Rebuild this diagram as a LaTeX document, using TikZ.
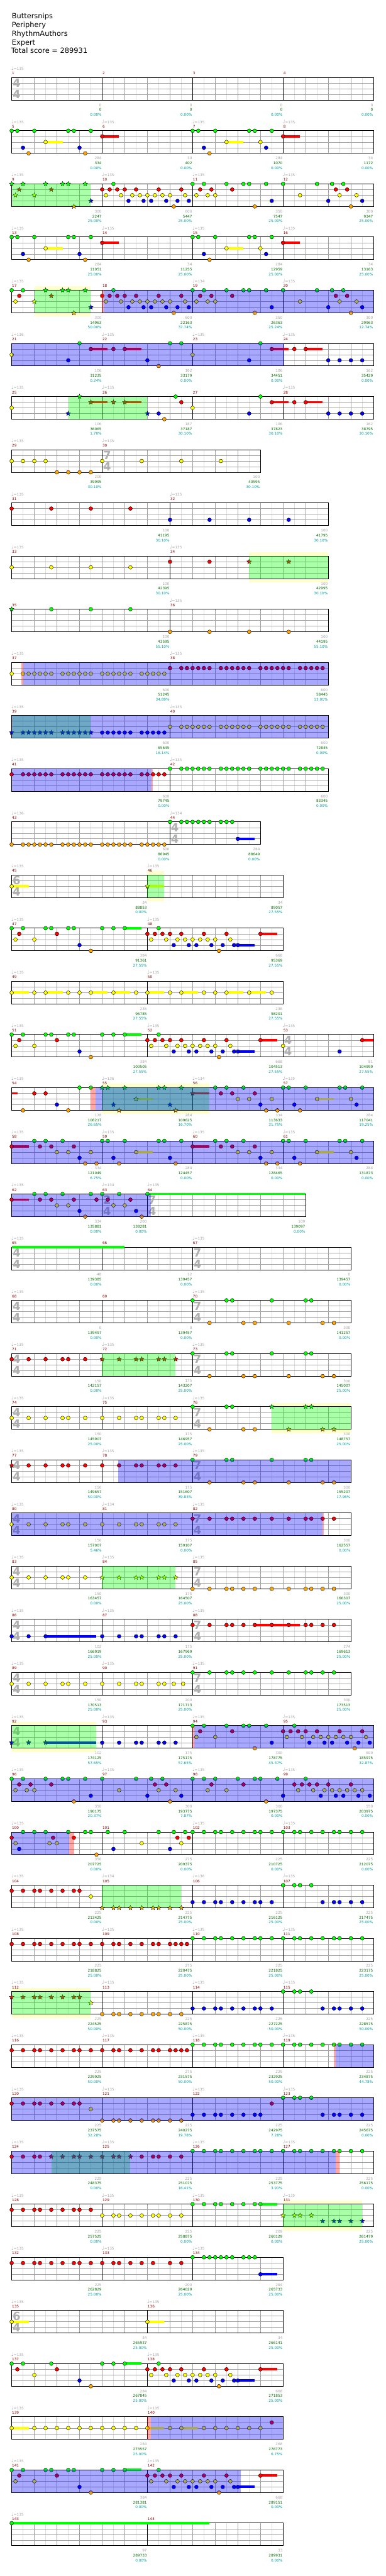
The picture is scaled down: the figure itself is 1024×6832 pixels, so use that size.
\documentclass[tikz,border=0pt]{standalone}
\usepackage{fontspec}
\setmainfont{DejaVu Sans}
\usetikzlibrary{shapes.geometric}
\definecolor{cG}{RGB}{0,255,0}
\definecolor{cR}{RGB}{255,0,0}
\definecolor{cY}{RGB}{255,255,0}
\definecolor{cB}{RGB}{0,0,255}
\definecolor{cO}{RGB}{255,165,0}
\definecolor{lightg}{RGB}{222,222,222}
\definecolor{midg}{RGB}{160,160,160}
\definecolor{tgray}{RGB}{165,165,165}
\definecolor{mred}{RGB}{145,0,0}
\definecolor{sgreen}{RGB}{0,110,0}
\definecolor{scyan}{RGB}{0,160,160}
\definecolor{tsgray}{RGB}{175,175,175}
\definecolor{ylw}{RGB}{255,255,204}
\newcommand\smallf{\fontsize{4.8pt}{5.5pt}\selectfont}
\newcommand\tsf{\fontsize{15pt}{15pt}\selectfont\bfseries}
\tikzset{
 nt/.style={draw=black, line width=0.35pt},
 stn/.style={star, star points=5, star point ratio=2.3, minimum size=6.5pt, inner sep=0pt, draw=black, line width=0.3pt},
 mnum/.style={anchor=west, inner sep=0pt, text=mred, font=\smallf},
 tmp/.style={anchor=west, inner sep=0pt, text=tgray, font=\smallf},
 sc1/.style={anchor=east, inner sep=0pt, text=tgray, font=\smallf},
 sc2/.style={anchor=east, inner sep=0pt, text=sgreen, font=\smallf},
 sc3/.style={anchor=east, inner sep=0pt, text=scyan, font=\smallf},
 tsn/.style={text=tsgray, font=\tsf, inner sep=0pt},
 hdr/.style={anchor=base west, inner sep=0pt, font=\fontsize{9.5pt}{11pt}\selectfont},
 rowno/.style={shift={(31,{205.7+141*#1})}}
}
% staff: #1 beats, #2 interior measure lines
\newcommand{\staff}[2]{%
 \fill[white] (0,0) rectangle (#1*60,60);
 \foreach \ii in {1,...,#1} {\draw[lightg,line width=0.5pt] (\ii*60-30,0) -- (\ii*60-30,60);}
 \pgfmathtruncatemacro\nbm{#1-1}
 \foreach \ii in {1,...,\nbm} {\draw[midg,line width=0.5pt] (\ii*60,0) -- (\ii*60,60);}
 \foreach \yy in {15,30,45} {\draw[midg,line width=0.5pt] (0,\yy) -- (#1*60,\yy);}
 \foreach \mm in {#2} {\draw[black,line width=0.5pt] (\mm*60,0) -- (\mm*60,60);}
 \draw[black,line width=0.8pt] (0,0) rectangle (#1*60,60);}
\newcommand{\nts}[3]{\edef\mylistx{#3}\foreach \xx in \mylistx {\filldraw[nt, fill=#1] (\xx*60,#2*15) circle[radius=2.5pt];}}
\newcommand{\sts}[3]{\edef\mylistx{#3}\foreach \xx in \mylistx {\node[stn, fill=#1] at (\xx*60,#2*15) {};}}
\newcommand{\sus}[4]{\fill[#1] (#3*60,#2*15-3.2) rectangle (#4*60,#2*15+3.2);}
\newcommand{\spz}[2]{\fill[cG, fill opacity=0.34] (#1*60,0) rectangle (#2*60,60);}
\newcommand{\odz}[2]{\fill[cB, fill opacity=0.34] (#1*60,0) rectangle (#2*60,60);}
\newcommand{\pkz}[2]{\fill[cR, fill opacity=0.34] (#1*60,0) rectangle (#2*60,60);}
\newcommand{\ybz}[2]{\fill[ylw] (#1*60,-10) rectangle (#2*60,70);}
\newcommand{\sat}[2]{\begin{scope}[shift={(#1*60,0)}]#2\end{scope}}
\newcommand{\mn}[2]{\node[mnum] at (#1*60+0.5,-11) {#2};}
\newcommand{\mt}[3]{\node[mnum] at (#1*60+0.5,-11) {#2};\node[tmp] at (#1*60-1,-24) {{\fontsize{6.5pt}{6.5pt}\selectfont ♩}=#3};}
\newcommand{\scores}[4]{\node[sc1] at (#1*60-1,73) {#2};\node[sc2] at (#1*60-1,86) {#3};\node[sc3] at (#1*60-1,99) {#4\%};}
\newcommand{\tsig}[3]{\node[tsn] at (#1*60+13,15) {#2};\node[tsn] at (#1*60+13,45) {#3};}
% lists
\def\lstA{0,0.75,1.5,2.25,2.5,3.25}
\def\lstB{4,4.75,5.5,5.75,6.5,6.75,7.25}
\def\lstS{0,0.75,1.5,1.75,2.25,2.75,3.5,4.25,5,5.25,5.75,6.25}
\def\lstP{0,0.5,1,1.25,1.75,2.25,2.75,3,3.5}
\def\lstPm{0,0.5,1,1.25,1.75,2.25,2.75,3}
\def\lstQ{0,0.5,0.75,1.25,1.75,2.25,2.5,3,3.5}
\def\lstSv{0,0.5,0.75,1,1.25,1.5,1.75,2.25,2.5,2.75,3,3.25,3.5,4,4.25,4.5,4.75,5,5.25,5.75,6,6.25,6.5,6.75}
% patterns
\newcommand{\pA}[1][\nts]{\sus{cY}{2}{1.5}{2.25}#1{cG}{0}{0,0.25,1,2.5,2.75,3.5}#1{cY}{2}{1.5}#1{cB}{3}{0.5,3}#1{cO}{4}{0.75,3.25}}
\newcommand{\pAp}[1][\nts]{\sus{cY}{2}{1.5}{2.25}#1{cG}{0}{0,0.25,1,2.5,2.75,3.5}#1{cY}{2}{1.5,3}#1{cB}{3}{0.5,3.25}#1{cO}{4}{0.75}}
\newcommand{\rsus}{\sus{cR}{1}{0}{0.75}\nts{cR}{1}{0}}
\newcommand{\pH}{\nts{cG}{0}{1,1.5,2.25}\nts{cR}{1}{1.25,1.75,2.75}\nts{cY}{2}{2,2.5,3.5}\nts{cB}{3}{3}\nts{cO}{4}{3.25,3.75}}
\newcommand{\pC}[1][\nts]{#1{cG}{0}{0,0.5,1.5,2.25,2.5,3.25}#1{cR}{1}{0.333,1.75}#1{cY}{2}{0.167,1}#1{cB}{3}{3.5}#1{cO}{4}{2.75}}
\newcommand{\pD}{\nts{cG}{0}{0.5}\nts{cR}{1}{0,0.333,0.667,1,1.5,2.5,3.5}\nts{cY}{2}{0.167,0.833,1.333,1.667,2,2.333,2.667,3,3.667}\nts{cB}{3}{1.167,1.833,2.167,2.833,3.333,3.833}\nts{cO}{4}{3.167}}
\newcommand{\pDx}{\nts{cG}{0}{0.5}\nts{cR}{1}{0,0.333,0.667,1,1.5,2.5}\nts{cY}{2}{0.167,0.833,1.333,1.667,2,2.333,2.667,3}\nts{cB}{3}{1.167,1.833,2.167,2.833,3.333}}
\newcommand{\pE}{\nts{cG}{0}{0,0.5,1.5,2.25,2.5,3.25,4,5.5,6.167,6.667}\nts{cR}{1}{0.333,0.833,1.75,6.333,6.833}\nts{cY}{2}{0.167,0.667,1,4.75,6.5,7.25}\nts{cB}{3}{3.5,6,7.5}\nts{cO}{4}{2.75,7}}
\newcommand{\pF}{\sus{cG}{0}{5}{5.75}\nts{cG}{0}{0,0.5,1.5,1.75,2.5,2.75,4,4.5,5}\nts{cR}{1}{0.333,2}\nts{cY}{2}{0.167,1}\nts{cB}{3}{3}\nts{cO}{4}{3.5}}
\newcommand{\pG}{\sus{cR}{1}{5}{5.75}\sus{cB}{3}{4}{4.75}\pD\nts{cR}{1}{5}\nts{cB}{3}{4}}
\newcommand{\pS}{\nts{cG}{0}{0,1.5,1.75,3.5,5,5.25}\nts{cO}{4}{0.75,2.25,2.75,4.25,5.75,6.25}}
\newcommand{\pK}{\nts{cG}{0}{0,0.5,0.75,1.25}\nts{cB}{3}{1.75,2.25,2.5,3,3.5}}
\begin{document}
\begin{tikzpicture}[x=0.5pt,y=-0.5pt]
\fill[white] (0,0) rectangle (1024,6832);
\useasboundingbox (0,0) rectangle (1024,6832);
\node[hdr] (song) at (31,49.3) {Buttersnips};
\node[hdr] (artist) at (31,72.3) {Periphery};
\node[hdr] (charter) at (31,95.5) {RhythmAuthors};
\node[hdr] (diff) at (31,118.5) {Expert};
\node[hdr] (total) at (29.5,141.7) {Total score = 289931};
% ---- row 0
\begin{scope}[rowno=0]
\staff{16}{4,8,12}\tsig{0}{4}{4}
\mt{0}{1}{135}\mn{4}{2}\mn{8}{3}\mn{12}{4}
\scores{4}{0}{0}{0.00}\scores{8}{0}{0}{0.00}\scores{12}{0}{0}{0.00}\scores{16}{0}{0}{0.00}
\end{scope}
% ---- row 1
\begin{scope}[rowno=1]
\staff{16}{4,8,12}
\pA\sat{4}{\rsus}\sat{8}{\pAp}\sat{12}{\rsus}
\mt{0}{5}{135}\mt{4}{6}{135}\mt{8}{7}{135}\mt{12}{8}{135}
\scores{4}{284}{334}{0.00}\scores{8}{34}{402}{0.00}\scores{12}{284}{1070}{0.00}\scores{16}{34}{1172}{0.00}
\end{scope}
% ---- row 2
\begin{scope}[rowno=2]
\staff{16}{4,8,12}
\pC[\sts]\sat{4}{\pD}\sat{8}{\pE}
\spz{0}{3.5}
\mt{0}{9}{135}\mt{4}{10}{135}\mt{8}{11}{135}\mt{12}{12}{135}
\scores{4}{300}{2247}{25.00}\scores{8}{600}{5447}{25.00}\scores{12}{350}{7547}{25.00}\scores{16}{300}{9347}{25.00}
\end{scope}
% ---- row 3
\begin{scope}[rowno=3]
\staff{16}{4,8,12}
\pA\sat{4}{\rsus}\sat{8}{\pAp}\sat{12}{\rsus}
\mt{0}{13}{135}\mt{4}{14}{135}\mt{8}{15}{135}\mt{12}{16}{135}
\scores{4}{284}{11051}{25.00}\scores{8}{34}{11255}{25.00}\scores{12}{284}{12959}{25.00}\scores{16}{34}{13163}{25.00}
\end{scope}
% ---- row 4
\begin{scope}[rowno=4]
\ybz{1}{3.5}\staff{16}{4,8,12}
\nts{cG}{0}{0,0.5}\nts{cR}{1}{0.333}\nts{cY}{2}{0.167}
\sts{cY}{2}{1}\sts{cG}{0}{1.5,2.25,2.5,3.25}\sts{cR}{1}{1.75}\sts{cB}{3}{3.5}\sts{cO}{4}{2.75}
\sat{4}{\pD}\sat{8}{\pE}
\spz{1}{3.5}\pkz{4}{4.07}\odz{4.07}{16}
\mt{0}{17}{135}\mn{4}{18}\mt{8}{19}{134}\mt{12}{20}{135}
\scores{4}{300}{14963}{50.00}\scores{8}{600}{22163}{37.74}\scores{12}{350}{26363}{25.24}\scores{16}{300}{29963}{12.74}
\end{scope}
% ---- row 5
\begin{scope}[rowno=5]
\staff{16}{4,8,12}
\sus{cR}{1}{3.5}{4.25}\sus{cR}{1}{5}{5.75}\sus{cR}{1}{11.5}{12.25}\sus{cR}{1}{13}{13.75}
\nts{cY}{2}{0,8}\nts{cG}{0}{3,7,7.5,11}\nts{cR}{1}{3.5,4.5,5,11.5,12.5,13}\nts{cB}{3}{2.5,6,10.5,14,14.5,15,15.5}\nts{cO}{4}{6.5}
\odz{0}{12.05}
\mt{0}{21}{136}\mt{4}{22}{135}\mt{8}{23}{135}\mt{12}{24}{135}
\scores{4}{106}{31235}{0.24}\scores{8}{162}{33179}{0.00}\scores{12}{106}{34451}{0.00}\scores{16}{162}{35429}{0.00}
\end{scope}
% ---- row 6
\begin{scope}[rowno=6]
\staff{16}{4,8,12}
\sus{cR}{1}{3.5}{4.25}\sus{cR}{1}{5}{5.75}\sus{cR}{1}{11.5}{12.25}\sus{cR}{1}{13}{13.75}
\nts{cY}{2}{0,8}\sts{cB}{3}{2.5,6}\sts{cG}{0}{3}\sts{cR}{1}{3.5,4.5,5}
\nts{cB}{3}{6.5,10.5,14,14.5,15,15.5}\nts{cO}{4}{6.75}\nts{cG}{0}{7.25,11}\nts{cR}{1}{7.5,11.5,12.5,13}
\spz{2.5}{6}
\mt{0}{25}{135}\mt{4}{26}{135}\mn{8}{27}\mt{12}{28}{135}
\scores{4}{106}{36065}{1.70}\scores{8}{187}{37187}{30.10}\scores{12}{106}{37823}{30.10}\scores{16}{162}{38795}{30.10}
\end{scope}
% ---- row 7
\begin{scope}[rowno=7]
\staff{11}{4}\tsig{4}{7}{4}
\nts{cY}{2}{0,0.5,1,1.5,4,5.75,7.5,9.25}\nts{cO}{4}{2,2.5,3,3.5}
\mt{0}{29}{135}\mt{4}{30}{135}
\scores{4}{200}{39995}{30.10}\scores{11}{100}{40595}{30.10}
\end{scope}
% ---- row 8
\begin{scope}[rowno=8]
\staff{14}{7}
\nts{cR}{1}{0,1.75,3.5,5.25}\nts{cB}{3}{7,8.75,10.5,12.25}
\mt{0}{31}{135}\mt{7}{32}{135}
\scores{7}{100}{41195}{30.10}\scores{14}{100}{41795}{30.10}
\end{scope}
% ---- row 9
\begin{scope}[rowno=9]
\ybz{10.5}{14}\staff{14}{7}
\nts{cY}{2}{0,1.75,3.5,5.25}\nts{cR}{1}{7,8.75}\sts{cR}{1}{10.5,12.25}
\spz{10.5}{14}
\mt{0}{33}{135}\mt{7}{34}{135}
\scores{7}{100}{42395}{30.10}\scores{14}{100}{42995}{30.10}
\end{scope}
% ---- row 10
\begin{scope}[rowno=10]
\staff{14}{7}
\sts{cG}{0}{0}\nts{cG}{0}{1.75,3.5,5.25}\nts{cO}{4}{7,8.75,10.5,12.25}
\mn{0}{35}\mt{7}{36}{135}
\scores{7}{100}{43595}{55.10}\scores{14}{100}{44195}{55.10}
\end{scope}
% ---- row 11
\begin{scope}[rowno=11]
\staff{14}{7}
\nts{cY}{2}{\lstSv}\sat{7}{\nts{cR}{1}{\lstSv}}
\pkz{0.44}{0.5}\odz{0.5}{14}
\mt{0}{37}{135}\mt{7}{38}{135}
\scores{7}{600}{51245}{34.89}\scores{14}{600}{58445}{13.01}
\end{scope}
% ---- row 12
\begin{scope}[rowno=12]
\staff{14}{7}
\sts{cB}{3}{0,0.5,0.75,1,1.25,1.5,1.75,2.25,2.5,2.75,3,3.25,3.5}
\nts{cB}{3}{4,4.25,4.5,4.75,5,5.25,5.75,6,6.25,6.5,6.75}
\sat{7}{\nts{cY}{2}{\lstSv}}
\spz{0}{3.5}\odz{0}{14}
\mt{0}{39}{135}\mt{7}{40}{135}
\scores{7}{600}{65645}{16.14}\scores{14}{600}{72845}{0.00}
\end{scope}
% ---- row 13
\begin{scope}[rowno=13]
\staff{14}{7}
\nts{cR}{1}{\lstSv}\sat{7}{\nts{cG}{0}{\lstSv}}
\odz{0}{6.17}\pkz{6.17}{6.25}
\mt{0}{41}{135}\mt{7}{42}{135}
\scores{7}{600}{79745}{0.00}\scores{14}{600}{83345}{0.00}
\end{scope}
% ---- row 14
\begin{scope}[rowno=14]
\staff{11}{7}\tsig{7}{4}{4}
\nts{cO}{4}{\lstSv}\sus{cB}{3}{10}{10.75}
\nts{cG}{0}{7,7.5,7.75,8,8.25,8.5,8.75,9.25,9.5,9.75}\nts{cB}{3}{10}
\mt{0}{43}{136}\mt{7}{44}{134}
\scores{7}{600}{86945}{0.00}\scores{11}{284}{88649}{0.00}
\end{scope}
% ---- row 15
\begin{scope}[rowno=15]
\ybz{6}{6.75}\staff{12}{6}\tsig{0}{6}{4}
\sus{cY}{2}{0}{0.75}\sus{cY}{2}{6}{6.75}\nts{cY}{2}{0}\sts{cY}{2}{6}
\spz{6}{6.75}
\mt{0}{45}{135}\mt{6}{46}{135}
\scores{6}{34}{88853}{0.00}\scores{12}{34}{89057}{27.55}
\end{scope}
% ---- row 16
\begin{scope}[rowno=16]
\staff{12}{6}
\pF\sat{6}{\pG}
\mt{0}{47}{135}\mt{6}{48}{135}
\scores{6}{384}{91361}{27.55}\scores{12}{668}{95369}{27.55}
\end{scope}
% ---- row 17
\begin{scope}[rowno=17]
\staff{12}{6}
\sus{cY}{2}{0}{0.75}\sus{cY}{2}{1.5}{2.25}\sus{cY}{2}{3.5}{4.25}\sus{cY}{2}{4.5}{5.25}
\sus{cY}{2}{6}{6.75}\sus{cY}{2}{7.5}{8.25}\sus{cY}{2}{9.5}{10.25}\sus{cY}{2}{10.5}{11.25}
\nts{cY}{2}{0,1,1.5,2.5,3,3.5,4.5,5.5,6,7,7.5,8.5,9,9.5,10.5,11.5}
\mt{0}{49}{135}\mt{6}{50}{135}
\scores{6}{236}{96785}{27.55}\scores{12}{236}{98201}{27.55}
\end{scope}
% ---- row 18
\begin{scope}[rowno=18]
\staff{16}{6,12}\tsig{12}{4}{4}
\pF\sat{6}{\pG}
\sus{cR}{1}{15.5}{16}\nts{cY}{2}{12}\nts{cB}{3}{14.5}\nts{cR}{1}{15.5}
\mt{0}{51}{135}\mt{6}{52}{135}\mt{12}{53}{135}
\scores{6}{384}{100505}{27.55}\scores{12}{668}{104513}{27.55}\scores{16}{81}{104999}{27.55}
\end{scope}
% ---- row 19
\begin{scope}[rowno=19]
\ybz{4}{8.75}\staff{16}{4,8,12}
\sus{cR}{1}{0}{0.25}\nts{cR}{1}{1,1.5}\nts{cG}{0}{3,3.5}\nts{cB}{3}{2}\nts{cO}{4}{0.5,2.5}
\sat{4}{\pA[\sts]}
\sus{cR}{1}{8}{8.75}\sts{cR}{1}{8}\sat{8}{\pH}\sat{12}{\pAp}
\pkz{3.5}{3.7}\spz{4}{8.75}\odz{3.7}{16}
\mt{0}{54}{135}\mt{4}{55}{136}\mt{8}{56}{134}\mt{12}{57}{135}
\scores{4}{178}{106217}{26.65}\scores{8}{284}{109625}{16.70}\scores{12}{334}{113633}{31.75}\scores{16}{284}{117041}{19.25}
\end{scope}
% ---- row 20
\begin{scope}[rowno=20]
\staff{16}{4,8,12}
\rsus\pH\sat{4}{\pA}\sat{8}{\rsus\pH}\sat{12}{\pAp}
\odz{0}{16}
\mt{0}{58}{135}\mt{4}{59}{135}\mt{8}{60}{135}\mt{12}{61}{135}
\scores{4}{334}{121049}{6.75}\scores{8}{284}{124457}{0.00}\scores{12}{334}{128465}{0.00}\scores{16}{284}{131873}{0.00}
\end{scope}
% ---- row 21
\begin{scope}[rowno=21]
\staff{13}{4,6}\tsig{4}{2}{4}\tsig{6}{7}{4}
\sus{cR}{1}{0}{0.75}\sus{cG}{0}{6}{13}
\nts{cG}{0}{1,1.5,2.25,3.5,4,4.75,6}\nts{cR}{1}{0,1.25,1.75,2.75,3.75,4.25,5.25}
\nts{cY}{2}{2,2.5,4.5,5}\nts{cB}{3}{3,5.5}\nts{cO}{4}{3.25,5.75}
\odz{0}{6.15}
\mt{0}{62}{135}\mt{4}{63}{134}\mt{6}{64}{135}
\scores{4}{334}{135881}{0.00}\scores{6}{200}{138281}{0.00}\scores{13}{109}{139097}{0.00}
\end{scope}
% ---- row 22
\begin{scope}[rowno=22]
\staff{15}{4,8}\tsig{0}{4}{4}\tsig{8}{7}{4}
\sus{cG}{0}{0}{5}
\mt{0}{65}{135}\mn{4}{66}\mt{8}{67}{135}
\scores{4}{48}{139385}{0.00}\scores{8}{12}{139457}{0.00}\scores{15}{0}{139457}{0.00}
\end{scope}
% ---- row 23
\begin{scope}[rowno=23]
\staff{15}{4,8}\tsig{0}{4}{4}\tsig{8}{7}{4}
\sat{8}{\pS}
\mt{0}{68}{135}\mn{4}{69}\mt{8}{70}{135}
\scores{4}{0}{139457}{0.00}\scores{8}{0}{139457}{0.00}\scores{15}{300}{141257}{0.00}
\end{scope}
% ---- row 24
\begin{scope}[rowno=24]
\staff{15}{4,8}\tsig{0}{4}{4}\tsig{8}{7}{4}
\nts{cR}{1}{\lstA}\sts{cR}{1}{\lstB}\sat{8}{\pS}
\spz{4}{7.25}
\mt{0}{71}{135}\mt{4}{72}{135}\mt{8}{73}{135}
\scores{4}{150}{142157}{0.00}\scores{8}{175}{143207}{25.00}\scores{15}{300}{145007}{25.00}
\end{scope}
% ---- row 25
\begin{scope}[rowno=25]
\ybz{11.5}{15}\staff{15}{4,8}\tsig{0}{4}{4}\tsig{8}{7}{4}
\nts{cY}{2}{\lstA}\nts{cY}{2}{\lstB}\nts{cG}{0}{8,9.5,9.75}\nts{cO}{4}{8.75,10.25,10.75}
\sts{cG}{0}{11.5,13,13.25}\sts{cO}{4}{12.25,13.75,14.25}
\spz{11.5}{15}
\mt{0}{74}{135}\mt{4}{75}{135}\mt{8}{76}{135}
\scores{4}{150}{145907}{25.00}\scores{8}{175}{146957}{25.00}\scores{15}{300}{148757}{25.00}
\end{scope}
% ---- row 26
\begin{scope}[rowno=26]
\staff{15}{4,8}\tsig{0}{4}{4}\tsig{8}{7}{4}
\sts{cR}{1}{0}\nts{cR}{1}{0.75,1.5,2.25,2.5,3.25}\nts{cR}{1}{\lstB}\sat{8}{\pS}
\odz{4.72}{15}
\mt{0}{77}{135}\mt{4}{78}{135}\mt{8}{79}{135}
\scores{4}{150}{149657}{50.00}\scores{8}{175}{151607}{39.83}\scores{15}{300}{155207}{17.96}
\end{scope}
% ---- row 27
\begin{scope}[rowno=27]
\staff{15}{4,8}\tsig{0}{4}{4}\tsig{8}{7}{4}
\nts{cY}{2}{\lstA}\nts{cY}{2}{\lstB}\sat{8}{\nts{cR}{1}{\lstS}}
\odz{0}{13.74}\pkz{13.74}{13.8}
\mt{0}{80}{135}\mt{4}{81}{134}\mt{8}{82}{135}
\scores{4}{150}{157007}{5.46}\scores{8}{175}{159107}{0.00}\scores{15}{300}{162557}{0.00}
\end{scope}
% ---- row 28
\begin{scope}[rowno=28]
\staff{15}{4,8}\tsig{0}{4}{4}\tsig{8}{7}{4}
\nts{cY}{2}{\lstA}\sts{cY}{2}{\lstB}\sat{8}{\nts{cO}{4}{\lstS}}
\spz{4}{7.25}
\mt{0}{83}{135}\mt{4}{84}{135}\mt{8}{85}{135}
\scores{4}{150}{163457}{0.00}\scores{8}{175}{164507}{25.00}\scores{15}{300}{166307}{25.00}
\end{scope}
% ---- row 29
\begin{scope}[rowno=29]
\staff{15}{4,8}\tsig{0}{4}{4}\tsig{8}{7}{4}
\sus{cB}{3}{1.5}{3.75}\nts{cB}{3}{0,0.75,1.5}\nts{cB}{3}{\lstB}
\sus{cR}{1}{10.75}{12.75}\sat{8}{\nts{cR}{1}{\lstS}}
\mt{0}{86}{135}\mt{4}{87}{135}\mt{8}{88}{135}
\scores{4}{102}{166919}{25.00}\scores{8}{175}{167969}{25.00}\scores{15}{274}{169613}{25.00}
\end{scope}
% ---- row 30
\begin{scope}[rowno=30]
\staff{15}{4,8}\tsig{0}{4}{4}\tsig{8}{7}{4}
\nts{cY}{2}{\lstA}\nts{cY}{2}{4,4.75,5.5,5.75,6.5,6.75,7.17,7.58}\sat{8}{\nts{cG}{0}{\lstS}}
\mt{0}{89}{135}\mt{4}{90}{135}\mt{8}{91}{135}
\scores{4}{150}{170513}{25.00}\scores{8}{200}{171713}{25.00}\scores{15}{300}{173513}{25.00}
\end{scope}
% ---- row 31
\begin{scope}[rowno=31]
\ybz{0}{3.75}\staff{16}{4,8,12}\tsig{0}{4}{4}
\sus{cB}{3}{1.5}{3.75}\sts{cB}{3}{0,0.75,1.5}\nts{cB}{3}{\lstB}
\sat{8}{\pC}\sat{12}{\pD}
\spz{0}{3.75}\pkz{8}{8.08}\odz{8.08}{16}
\mt{0}{92}{135}\mt{4}{93}{135}\mt{8}{94}{135}\mt{12}{95}{135}
\scores{4}{102}{174125}{57.65}\scores{8}{175}{175175}{57.65}\scores{12}{300}{178775}{45.37}\scores{16}{600}{185975}{32.87}
\end{scope}
% ---- row 32
\begin{scope}[rowno=32]
\staff{16}{4,8,12}
\pE\nts{cG}{0}{8}\sat{8.5}{\pC}\sat{12.5}{\pDx}
\odz{0}{16}
\mt{0}{96}{135}\mt{4}{97}{135}\mt{8}{98}{135}\mt{12}{99}{135}
\scores{4}{350}{190175}{20.37}\scores{8}{300}{193775}{7.87}\scores{12}{300}{197375}{0.00}\scores{16}{550}{203975}{0.00}
\end{scope}
% ---- row 33
\begin{scope}[rowno=33]
\staff{16}{4,8,12}
\nts{cR}{1}{0,1.83,2.75}\nts{cG}{0}{0.5,1,1.5,2.5,3.25,3.5}\nts{cY}{2}{0.17,1.67,2}\nts{cB}{3}{0.33}\nts{cO}{4}{3.75}
\nts{cG}{0}{4.25,5,6.5,7.17,7.67}\nts{cR}{1}{7.33,7.83}\nts{cY}{2}{5.75,7.5}\nts{cB}{3}{4.5,7}
\sat{8}{\nts{cG}{0}{\lstP}}\sat{12}{\nts{cG}{0}{\lstQ}}
\odz{0}{2.53}\pkz{2.53}{2.75}
\mt{0}{100}{135}\mn{4}{101}\mt{8}{102}{135}\mt{12}{103}{135}
\scores{4}{350}{207725}{0.00}\scores{8}{275}{209375}{0.00}\scores{12}{225}{210725}{0.00}\scores{16}{225}{212075}{0.00}
\end{scope}
% ---- row 34
\begin{scope}[rowno=34]
\staff{16}{4,8,12}
\nts{cR}{1}{\lstPm}\nts{cY}{2}{3.5}\sat{4}{\sts{cO}{4}{\lstQ}}\sat{8}{\nts{cB}{3}{\lstP}}\sat{12}{\pK}
\spz{4}{7.5}
\mt{0}{104}{135}\mt{4}{105}{134}\mt{8}{106}{136}\mt{12}{107}{135}
\scores{4}{225}{213425}{0.00}\scores{8}{225}{214775}{25.00}\scores{12}{225}{216125}{25.00}\scores{16}{225}{217475}{25.00}
\end{scope}
% ---- row 35
\begin{scope}[rowno=35]
\staff{16}{4,8,12}
\nts{cR}{1}{\lstP}\nts{cR}{1}{4,4.5,4.75,5.25,5.75,6.25,6.5,7,7.25,7.5,7.75}
\sat{8}{\nts{cG}{0}{\lstP}}\sat{12}{\nts{cG}{0}{\lstQ}}
\mt{0}{108}{135}\mt{4}{109}{135}\mt{8}{110}{135}\mt{12}{111}{135}
\scores{4}{225}{218825}{25.00}\scores{8}{275}{220475}{25.00}\scores{12}{225}{221825}{25.00}\scores{16}{225}{223175}{25.00}
\end{scope}
% ---- row 36
\begin{scope}[rowno=36]
\ybz{0}{3.5}\staff{16}{4,8,12}
\sts{cR}{1}{\lstPm}\sts{cY}{2}{3.5}\sat{4}{\nts{cO}{4}{\lstQ}}\sat{8}{\nts{cB}{3}{\lstP}}\sat{12}{\pK}
\spz{0}{3.5}
\mt{0}{112}{135}\mt{4}{113}{135}\mt{8}{114}{135}\mt{12}{115}{135}
\scores{4}{225}{224525}{50.00}\scores{8}{225}{225875}{50.00}\scores{12}{225}{227225}{50.00}\scores{16}{225}{228575}{50.00}
\end{scope}
% ---- row 37
\begin{scope}[rowno=37]
\staff{16}{4,8,12}
\nts{cR}{1}{\lstP}\nts{cR}{1}{4,4.5,4.75,5.25,5.75,6.25,6.5,7,7.25,7.5,7.75}
\sat{8}{\nts{cG}{0}{\lstP}}\sat{12}{\nts{cG}{0}{\lstQ}}
\pkz{14.25}{14.33}\odz{14.33}{16}
\mt{0}{116}{135}\mt{4}{117}{135}\mt{8}{118}{135}\mt{12}{119}{135}
\scores{4}{225}{229925}{50.00}\scores{8}{275}{231575}{50.00}\scores{12}{225}{232925}{50.00}\scores{16}{225}{234875}{44.78}
\end{scope}
% ---- row 38
\begin{scope}[rowno=38]
\staff{16}{4,8,12}
\nts{cR}{1}{\lstPm}\nts{cY}{2}{3.5}\sat{4}{\nts{cO}{4}{\lstQ}}\sat{8}{\nts{cB}{3}{\lstPm}}\nts{cR}{1}{11.5}\sat{12}{\pK}
\odz{0}{16}
\mt{0}{120}{135}\mt{4}{121}{135}\mt{8}{122}{135}\mt{12}{123}{135}
\scores{4}{225}{237575}{32.28}\scores{8}{225}{240275}{19.78}\scores{12}{225}{242975}{7.28}\scores{16}{225}{245675}{0.00}
\end{scope}
% ---- row 39
\begin{scope}[rowno=39]
\staff{16}{4,8,12}
\nts{cR}{1}{0,0.5,1,1.25}\sts{cR}{1}{1.75,2.25,2.75,3,3.5,4,4.5,4.75,5.25}\nts{cR}{1}{5.75,6.25,6.5,7,7.5}
\sat{8}{\nts{cG}{0}{\lstP}}\sat{12}{\nts{cG}{0}{\lstQ}}
\spz{1.75}{5.25}\odz{0}{14.33}\pkz{14.33}{14.5}
\mt{0}{124}{135}\mt{4}{125}{135}\mt{8}{126}{135}\mt{12}{127}{135}
\scores{4}{225}{248375}{0.00}\scores{8}{225}{251075}{16.41}\scores{12}{225}{253775}{3.91}\scores{16}{225}{256175}{0.00}
\end{scope}
% ---- row 40
\begin{scope}[rowno=40]
\ybz{12}{15.5}\staff{16}{4,8,12}
\nts{cR}{1}{\lstP}\sat{4}{\nts{cY}{2}{\lstQ}}\sus{cG}{0}{11}{11.75}\sat{8}{\nts{cG}{0}{\lstPm}}
\sts{cY}{2}{12,12.5,12.75,13.25}\sts{cB}{3}{13.75,14.25,14.5,15,15.5}
\spz{12}{15.5}
\mt{0}{128}{135}\mt{4}{129}{135}\mt{8}{130}{135}\mt{12}{131}{135}
\scores{4}{225}{257525}{0.00}\scores{8}{225}{258875}{0.00}\scores{12}{209}{260129}{0.00}\scores{16}{225}{261479}{25.00}
\end{scope}
% ---- row 41
\begin{scope}[rowno=41]
\staff{12}{4,8}
\nts{cR}{1}{\lstP}\nts{cR}{1}{4,4.5,4.75,5.25,5.75,6.25,7,7.5}
\sus{cB}{3}{11}{11.75}\nts{cG}{0}{8,8.5,8.75,9,9.25,9.5,9.75,10.25,10.5,10.75}\nts{cB}{3}{11}
\mt{0}{132}{135}\mt{4}{133}{135}\mt{8}{134}{135}
\scores{4}{225}{262829}{25.00}\scores{8}{200}{264029}{25.00}\scores{12}{284}{265733}{25.00}
\end{scope}
% ---- row 42
\begin{scope}[rowno=42]
\staff{12}{6}\tsig{0}{6}{4}
\sus{cY}{2}{0}{0.75}\sus{cY}{2}{6}{6.75}\nts{cY}{2}{0,6}
\mt{0}{135}{135}\mt{6}{136}{135}
\scores{6}{34}{265937}{25.00}\scores{12}{34}{266141}{25.00}
\end{scope}
% ---- row 43
\begin{scope}[rowno=43]
\staff{12}{6}
\sus{cG}{0}{5}{5.75}\nts{cG}{0}{0,0.5,1.75,4,4.5,5}\nts{cR}{1}{0.25,2}\nts{cY}{2}{1}\nts{cB}{3}{3}\nts{cO}{4}{3.5}
\sat{6}{\pG}
\mt{0}{137}{135}\mt{6}{138}{135}
\scores{6}{284}{267845}{25.00}\scores{12}{668}{271853}{25.00}
\end{scope}
% ---- row 44
\begin{scope}[rowno=44]
\staff{12}{6}
\sus{cY}{2}{0}{0.75}\sus{cY}{2}{6}{6.75}\sus{cY}{2}{7.5}{8.25}
\nts{cY}{2}{0,1,1.5,2,2.5,3,3.5,4,4.5,5,5.5,6,7,7.5,8.5,9,9.5,10,10.5,11}\nts{cR}{1}{11.5}
\pkz{6}{6.15}\odz{6.15}{12}
\mt{0}{139}{135}\mt{6}{140}{135}
\scores{6}{284}{273557}{25.00}\scores{12}{268}{276773}{6.75}
\end{scope}
% ---- row 45
\begin{scope}[rowno=45]
\staff{12}{6}
\pF\sat{6}{\pG}
\odz{0}{10.14}
\mt{0}{141}{135}\mt{6}{142}{135}
\scores{6}{384}{281381}{0.00}\scores{12}{668}{289151}{0.00}
\end{scope}
% ---- row 46
\begin{scope}[rowno=46]
\staff{12}{6}
\sus{cG}{0}{0}{8.75}\nts{cG}{0}{0}
\mt{0}{143}{135}\mn{6}{144}
\scores{6}{97}{289733}{0.00}\scores{12}{33}{289931}{0.00}
\end{scope}
\end{tikzpicture}
\end{document}
